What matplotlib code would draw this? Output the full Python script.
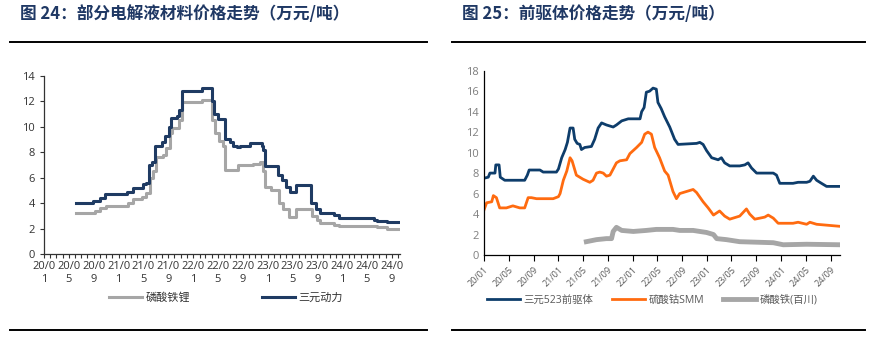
import pandas as pd
import matplotlib
matplotlib.use("Agg")
import matplotlib.pyplot as plt
import matplotlib.dates as mdates
from matplotlib.lines import Line2D

plt.rcParams['font.family'] = ['Open Sans', 'Noto Sans CJK SC', 'DejaVu Sans']

# ---- data: left chart (电解液材料, 万元/吨) ----
lfp_dates = ['2020-06-08', '2020-09-07', '2020-10-01', '2020-10-29', '2021-02-14', '2021-03-13',
             '2021-04-23', '2021-05-17', '2021-06-03', '2021-06-16', '2021-07-02', '2021-08-04',
             '2021-08-20', '2021-09-07', '2021-09-18', '2021-10-25', '2021-11-06', '2022-02-13',
             '2022-04-05', '2022-04-17', '2022-05-08', '2022-05-25', '2022-06-06', '2022-08-10',
             '2022-10-23', '2022-11-26', '2022-12-11', '2022-12-20', '2023-01-17', '2023-02-24',
             '2023-03-18', '2023-04-17', '2023-05-19', '2023-08-05', '2023-08-30', '2023-09-16',
             '2023-11-20', '2023-12-14', '2024-06-20', '2024-08-08', '2024-10-08']
lfp_vals = [3.25, 3.4, 3.6, 3.8, 4.0, 4.3,
            4.5, 4.8, 6.0, 6.5, 7.6, 7.8,
            8.3, 9.5, 9.9, 10.5, 11.9, 12.1,
            10.5, 9.5, 8.9, 8.5, 6.6, 7.0,
            7.1, 7.2, 6.5, 5.3, 5.0, 4.0,
            3.5, 2.9, 3.5, 3.0, 2.7, 2.4,
            2.3, 2.2, 2.1, 2.0, 2.0]

ncm_dates = ['2020-06-08', '2020-08-30', '2020-10-01', '2020-10-26', '2021-02-10', '2021-03-13',
             '2021-05-01', '2021-05-17', '2021-05-28', '2021-06-11', '2021-06-27', '2021-07-30',
             '2021-08-16', '2021-09-02', '2021-09-13', '2021-10-12', '2021-10-25', '2021-11-06',
             '2022-02-13', '2022-04-05', '2022-04-13', '2022-05-04', '2022-06-06', '2022-07-01',
             '2022-07-16', '2022-08-05', '2022-08-18', '2022-10-07', '2022-12-03', '2022-12-11',
             '2022-12-20', '2023-02-19', '2023-03-10', '2023-03-31', '2023-04-20', '2023-05-19',
             '2023-08-01', '2023-08-26', '2023-09-12', '2023-11-20', '2023-12-14', '2024-06-04',
             '2024-06-20', '2024-08-08', '2024-10-08']
ncm_vals = [4.0, 4.2, 4.4, 4.7, 4.9, 5.2,
            5.5, 5.6, 7.0, 7.2, 8.5, 8.8,
            9.3, 10.0, 10.7, 10.8, 11.3, 12.8,
            13.0, 12.0, 11.0, 10.6, 9.0, 8.8,
            8.5, 8.4, 8.5, 8.7, 8.5, 8.2,
            6.9, 6.2, 5.8, 5.3, 4.9, 5.4,
            4.0, 3.5, 3.2, 3.1, 2.8, 2.7,
            2.6, 2.5, 2.5]

# ---- data: right chart (前驱体, 万元/吨) ----
pre_dates = ['2020-01-01', '2020-01-22', '2020-01-30', '2020-02-24', '2020-02-28', '2020-03-15',
             '2020-03-21', '2020-04-12', '2020-07-19', '2020-08-01', '2020-08-10', '2020-10-02',
             '2020-10-18', '2020-12-22', '2021-01-01', '2021-01-17', '2021-02-03', '2021-02-14',
             '2021-02-27', '2021-03-14', '2021-03-22', '2021-04-03', '2021-04-16', '2021-04-24',
             '2021-05-10', '2021-06-12', '2021-06-28', '2021-07-15', '2021-08-01', '2021-08-25',
             '2021-09-27', '2021-10-13', '2021-11-08', '2021-12-10', '2022-02-06', '2022-02-14',
             '2022-02-26', '2022-03-09', '2022-03-25', '2022-04-11', '2022-04-27', '2022-05-05',
             '2022-05-21', '2022-06-07', '2022-07-02', '2022-07-26', '2022-08-12', '2022-11-11',
             '2022-11-27', '2022-12-13', '2022-12-30', '2023-01-24', '2023-02-25', '2023-03-13',
             '2023-03-29', '2023-04-23', '2023-06-11', '2023-07-06', '2023-07-22', '2023-08-08',
             '2023-09-02', '2023-11-23', '2023-12-09', '2023-12-25', '2024-02-28', '2024-03-24',
             '2024-05-05', '2024-05-21', '2024-06-07', '2024-06-23', '2024-07-17', '2024-08-11',
             '2024-10-16']
pre_vals = [7.5, 7.6, 8.0, 8.0, 8.8, 8.8,
            7.6, 7.3, 7.3, 7.8, 8.3, 8.3,
            8.1, 8.1, 8.4, 9.5, 10.3, 11.0,
            12.4, 12.4, 11.3, 10.9, 10.8, 10.3,
            10.5, 10.6, 11.3, 12.4, 12.9, 12.7,
            12.5, 12.7, 13.1, 13.3, 13.3, 14.0,
            14.4, 15.9, 16.0, 16.3, 16.2, 14.9,
            14.3, 13.5, 12.5, 11.3, 10.8, 10.9,
            11.0, 10.8, 10.2, 9.5, 9.3, 9.5,
            9.0, 8.7, 8.7, 8.8, 9.0, 8.5,
            8.0, 8.0, 7.8, 7.0, 7.0, 7.1,
            7.1, 7.2, 7.7, 7.3, 7.0, 6.7,
            6.7]

co_dates = ['2020-01-01', '2020-01-14', '2020-02-08', '2020-02-16', '2020-03-02', '2020-03-18',
            '2020-04-20', '2020-05-22', '2020-06-25', '2020-07-19', '2020-08-05', '2020-08-21',
            '2020-09-15', '2020-12-06', '2021-01-01', '2021-01-09', '2021-01-25', '2021-02-11',
            '2021-02-27', '2021-03-09', '2021-03-30', '2021-05-02', '2021-06-04', '2021-06-20',
            '2021-07-07', '2021-07-23', '2021-08-09', '2021-08-25', '2021-09-11', '2021-09-27',
            '2021-10-13', '2021-10-30', '2021-12-02', '2021-12-18', '2022-01-20', '2022-02-14',
            '2022-03-01', '2022-03-17', '2022-04-03', '2022-04-19', '2022-05-13', '2022-06-07',
            '2022-06-24', '2022-07-18', '2022-08-04', '2022-08-20', '2022-09-22', '2022-10-25',
            '2022-11-11', '2022-12-13', '2023-01-07', '2023-02-02', '2023-03-04', '2023-03-29',
            '2023-04-23', '2023-06-11', '2023-07-14', '2023-07-30', '2023-08-24', '2023-09-18',
            '2023-10-12', '2023-10-29', '2023-11-23', '2023-12-17', '2024-01-11', '2024-02-28',
            '2024-03-24', '2024-05-05', '2024-05-21', '2024-06-23', '2024-10-16']
co_vals = [4.4, 5.1, 5.2, 5.8, 5.6, 4.6,
           4.6, 4.8, 4.6, 4.6, 5.6, 5.6,
           5.5, 5.5, 5.7, 6.0, 7.3, 8.2,
           9.5, 9.2, 7.8, 7.4, 7.1, 7.3,
           8.0, 8.1, 8.0, 7.7, 7.8, 8.4,
           9.0, 9.2, 9.3, 9.9, 10.5, 11.0,
           11.8, 12.0, 11.8, 10.5, 9.5, 8.2,
           7.8, 6.2, 5.5, 6.0, 6.2, 6.4,
           6.1, 5.2, 4.6, 3.9, 4.3, 3.8,
           3.5, 3.8, 4.5, 4.0, 3.5, 3.6,
           3.7, 3.9, 3.6, 3.1, 3.1, 3.1,
           3.2, 3.0, 3.2, 3.0, 2.8]

fe_dates = ['2021-05-18', '2021-07-07', '2021-08-25', '2021-09-19', '2021-09-27', '2021-10-13',
            '2021-11-08', '2022-01-04', '2022-03-09', '2022-04-27', '2022-07-18', '2022-08-20',
            '2022-10-25', '2022-12-30', '2023-02-02', '2023-02-18', '2023-04-07', '2023-06-11',
            '2023-11-23', '2024-01-11', '2024-05-05', '2024-10-16']
fe_vals = [1.3, 1.5, 1.6, 1.6, 2.3, 2.7,
           2.4, 2.3, 2.4, 2.5, 2.5, 2.4,
           2.4, 2.2, 2.0, 1.6, 1.5, 1.3,
           1.2, 1.0, 1.05, 1.0]

NAVY_L = '#1f3b63'
GRAY = '#a6a6a6'
NAVY_R = '#0e3d6b'
ORANGE = '#ff6b10'
TITLE_C = '#1f3864'

fig = plt.figure(figsize=(8.77, 3.44), dpi=100)

# titles and rules
fig.text(20 / 877, 1 - 14 / 344, '图 24：部分电解液材料价格走势（万元/吨）', fontsize=12,
         fontweight='bold', color=TITLE_C, va='center', ha='left', family='Noto Sans CJK SC')
fig.text(462 / 877, 1 - 14 / 344, '图 25：前驱体价格走势（万元/吨）', fontsize=12,
         fontweight='bold', color=TITLE_C, va='center', ha='left', family='Noto Sans CJK SC')
for x0, x1 in [(10, 427), (452, 865)]:
    for yy in (42, 330):
        fig.add_artist(Line2D([x0 / 877, x1 / 877], [1 - yy / 344, 1 - yy / 344],
                              transform=fig.transFigure, color='black', lw=1.4))

# ---- left chart ----
axl = fig.add_axes([44 / 877, 1 - 254 / 344, 356 / 877, 178.3 / 344])
axl.step(pd.to_datetime(lfp_dates), lfp_vals, where='post', color=GRAY, lw=2.2, label='磷酸铁锂')
axl.step(pd.to_datetime(ncm_dates), ncm_vals, where='post', color=NAVY_L, lw=2.2, label='三元动力')
axl.set_ylim(0, 14)
axl.set_yticks(range(0, 15, 2))
axl.set_xlim(pd.Timestamp('2020-01-01'), pd.Timestamp('2024-10-10'))
axl.xaxis.set_major_locator(mdates.MonthLocator(bymonth=[1, 5, 9]))
axl.xaxis.set_minor_locator(mdates.MonthLocator())
axl.xaxis.set_major_formatter(
    plt.FuncFormatter(lambda v, p: mdates.num2date(v).strftime('%y/%m')[:4] + '\n' + str(mdates.num2date(v).month)))
axl.tick_params(axis='both', labelsize=8, colors='#333333', length=3, width=0.8)
axl.tick_params(axis='x', which='minor', length=3, width=0.8, color='#333333')
axl.tick_params(axis='x', pad=2)
for s in ['top', 'right']:
    axl.spines[s].set_visible(False)
for s in ['left', 'bottom']:
    axl.spines[s].set_color('#333333')
    axl.spines[s].set_linewidth(0.9)
axl.legend(loc='center', bbox_to_anchor=(226 / 877, 1 - 298 / 344), bbox_transform=fig.transFigure,
           ncol=2, frameon=False, fontsize=8, handlelength=3.0, columnspacing=6.5, handletextpad=0.3,
           labelcolor='#333333')

# ---- right chart ----
axr = fig.add_axes([484 / 877, 1 - 255 / 344, 356 / 877, 184.3 / 344])
axr.plot(pd.to_datetime(pre_dates), pre_vals, color=NAVY_R, lw=2.0, label='三元523前驱体')
axr.plot(pd.to_datetime(co_dates), co_vals, color=ORANGE, lw=2.0, label='硫酸钴SMM')
axr.plot(pd.to_datetime(fe_dates), fe_vals, color=GRAY, lw=3.5, label='磷酸铁(百川)')
axr.set_ylim(0, 18)
axr.set_yticks(range(0, 19, 2))
axr.set_xlim(pd.Timestamp('2020-01-01'), pd.Timestamp('2024-10-16'))
axr.xaxis.set_major_locator(mdates.MonthLocator(bymonth=[1, 5, 9]))
axr.xaxis.set_major_formatter(mdates.DateFormatter('%y/%m'))
axr.tick_params(axis='y', labelsize=8, colors='#7f7f7f', length=0)
axr.tick_params(axis='x', labelsize=6.5, colors='#595959', length=4, width=0.8, color='black')
for lab in axr.get_xticklabels():
    lab.set_rotation(45)
    lab.set_ha('right')
    lab.set_rotation_mode('anchor')
for s in ['top', 'right']:
    axr.spines[s].set_visible(False)
for s in ['left', 'bottom']:
    axr.spines[s].set_color('black')
    axr.spines[s].set_linewidth(0.9)
axr.legend(loc='center', bbox_to_anchor=(652 / 877, 1 - 300 / 344), bbox_transform=fig.transFigure,
           ncol=3, frameon=False, fontsize=7.5, handlelength=3.2, columnspacing=1.8, handletextpad=0.3,
           labelcolor='#595959')

fig.savefig('out.png', dpi=100)
